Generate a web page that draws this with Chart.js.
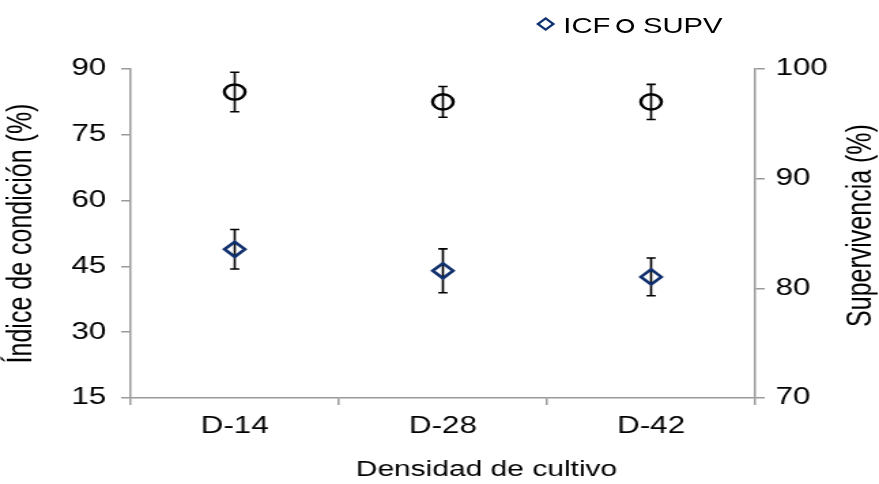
<!DOCTYPE html>
<html>
<head>
<meta charset="utf-8">
<script src="https://cdn.jsdelivr.net/npm/chart.js@4/dist/chart.umd.min.js"></script>
<style>
  html, body { margin: 0; padding: 0; background: #fff; overflow: hidden; }
  /* la figura original está estirada en horizontal, se dibuja angosta y se escala */
  #wrap { position: absolute; left: 0; top: 0; width: 646px; height: 484px;
          transform: scaleX(1.3607); transform-origin: 0 0; }
  #leyenda { position: absolute; left: 0; top: 0; width: 646px; height: 50px;
             font-family: "Liberation Sans", Arial, sans-serif; font-size: 21.5px; color: #000; }
  .item { position: absolute; top: 14px; line-height: 24px; }
  .rombo { position: absolute; width: 6px; height: 6px; border: 2.4px solid #10306e;
           transform: rotate(45deg); }
  .circulo { position: absolute; width: 8.5px; height: 9.5px; border: 2px solid #000; border-radius: 50%; }
</style>
</head>
<body>
<div id="wrap">
  <canvas id="grafica"></canvas>
  <div id="leyenda">
    <span class="rombo" style="left:395.5px; top:19px;"></span>
    <span class="item" style="left:414px;">ICF</span>
    <span class="circulo" style="left:453px; top:19px;"></span>
    <span class="item" style="left:472.5px;">SUPV</span>
  </div>
</div>
<script>
// ================= DATOS =================
const categorias = ["D-14", "D-28", "D-42"];

// Índice de condición (eje izquierdo)
const icf = [48.9, 44.0, 42.6];
const icfError = [4.5, 5.0, 4.3];

// Supervivencia (eje derecho)
const supv = [97.9, 97.0, 97.0];
const supvError = [1.8, 1.4, 1.6];

const ticksIzq = { min: 15, max: 90, paso: 15 };
const ticksDer = { min: 70, max: 100, paso: 10 };

const tituloX = 'Densidad de cultivo';
const tituloDer = 'Supervivencia (%)';

const errores = [icfError, supvError];

const fuente = "'Liberation Sans', Arial, sans-serif";
const gris = '#9a9a9a';

// ================= PLUGINS =================

// Barras de error (debajo de los marcadores)
const barrasError = {
    id: 'barrasError',
    beforeDatasetsDraw(chart) {
        const ctx = chart.ctx;
        ctx.save();
        ctx.strokeStyle = '#000';
        ctx.lineWidth = 1.6;
        chart.data.datasets.forEach((ds, i) => {
            const meta = chart.getDatasetMeta(i);
            const escala = chart.scales[ds.yAxisID];
            meta.data.forEach((pt, j) => {
                const v = ds.data[j];
                const e = errores[i][j];
                const yArriba = escala.getPixelForValue(v + e);
                const yAbajo = escala.getPixelForValue(v - e);
                const x = pt.x;
                const cap = 3.4;
                ctx.beginPath();
                ctx.moveTo(x, yArriba); ctx.lineTo(x, yAbajo);
                ctx.moveTo(x - cap, yArriba); ctx.lineTo(x + cap, yArriba);
                ctx.moveTo(x - cap, yAbajo); ctx.lineTo(x + cap, yAbajo);
                ctx.stroke();
            });
        });
        ctx.restore();
    }
};

// Títulos del eje X y del eje derecho, colocados como en el original
const titulos = {
    id: 'titulos',
    afterDraw(chart) {
        const { ctx, chartArea } = chart;
        ctx.save();
        ctx.fillStyle = '#000';
        ctx.textAlign = 'center';
        ctx.textBaseline = 'middle';

        ctx.font = `22px ${fuente}`;
        ctx.fillText(tituloX, (chartArea.left + chartArea.right) / 2 + 32, chart.height - 14);

        ctx.font = `25px ${fuente}`;
        ctx.translate(chartArea.right + 78.5, (chartArea.top + chartArea.bottom) / 2 - 8);
        ctx.rotate(-Math.PI / 2);
        ctx.fillText(tituloDer, 0, 0);
        ctx.restore();
    }
};

// ================= GRÁFICA =================
new Chart(document.getElementById('grafica').getContext('2d'), {
    type: 'line',
    data: {
        labels: categorias,
        datasets: [
            {
                label: 'ICF',
                data: icf,
                yAxisID: 'y',
                showLine: false,
                pointStyle: 'rectRot',
                pointRadius: 7.5,
                pointBorderWidth: 2.6,
                pointBorderColor: '#10306e',
                pointBackgroundColor: 'rgba(0,0,0,0)'
            },
            {
                label: 'SUPV',
                data: supv,
                yAxisID: 'y1',
                showLine: false,
                pointStyle: 'circle',
                pointRadius: 7.6,
                pointBorderWidth: 2.4,
                pointBorderColor: '#000',
                pointBackgroundColor: 'rgba(0,0,0,0)'
            }
        ]
    },
    options: {
        responsive: true,
        maintainAspectRatio: false,
        animation: false,
        layout: { padding: { top: 69, left: 0, right: 0, bottom: 0 } },
        plugins: {
            legend: { display: false },
            tooltip: { enabled: false }
        },
        scales: {
            x: {
                type: 'category',
                offset: true,
                grid: { offset: true, drawOnChartArea: false, tickLength: 7, color: gris, lineWidth: 1.5 },
                border: { color: gris, width: 1.5 },
                ticks: { color: '#000', font: { family: fuente, size: 23 }, padding: 8, maxRotation: 0 },
                afterFit: (escala) => { escala.height = 86; }
            },
            y: {
                position: 'left',
                min: ticksIzq.min,
                max: ticksIzq.max,
                grid: { drawOnChartArea: false, tickLength: 7, color: gris, lineWidth: 1.5 },
                border: { color: gris, width: 1.5 },
                ticks: { stepSize: ticksIzq.paso, color: '#000', font: { family: fuente, size: 23 }, padding: 11 },
                title: { display: true, text: 'Índice de condición (%)', color: '#000',
                         font: { family: fuente, size: 25 }, padding: 1 },
                afterFit: (escala) => { escala.width = 96; }
            },
            y1: {
                position: 'right',
                min: ticksDer.min,
                max: ticksDer.max,
                grid: { drawOnChartArea: false, tickLength: 7, color: gris, lineWidth: 1.5 },
                border: { color: gris, width: 1.5 },
                ticks: { stepSize: ticksDer.paso, color: '#000', font: { family: fuente, size: 23 }, padding: 8 },
                afterFit: (escala) => { escala.width = 91; }
            }
        }
    },
    plugins: [barrasError, titulos]
});
</script>
</body>
</html>
